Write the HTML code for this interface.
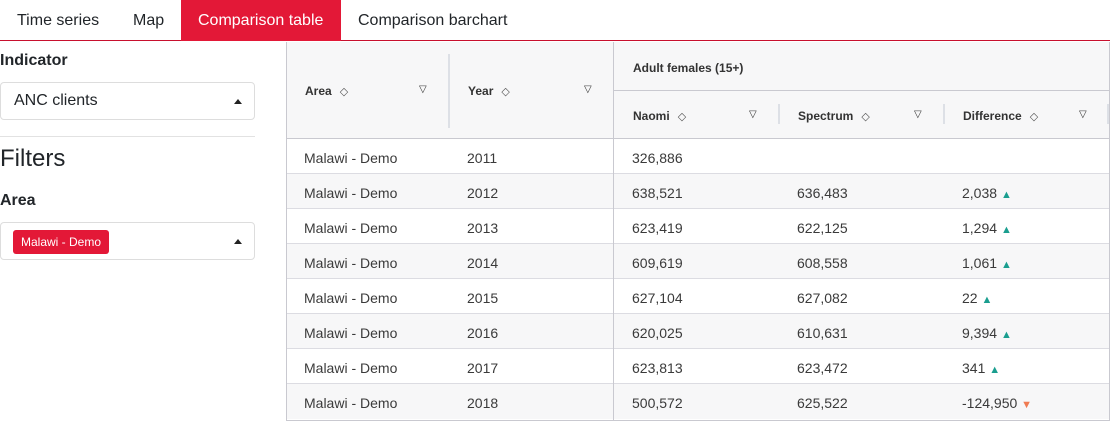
<!DOCTYPE html>
<html><head><meta charset="utf-8"><style>
*{box-sizing:border-box;margin:0;padding:0}
body{width:1110px;height:421px;background:#fff;font-family:"Liberation Sans",sans-serif;color:#212529;position:relative;overflow:hidden}
.a{position:absolute}
.tab{position:absolute;top:0;height:41px;line-height:41px;font-size:16px;padding:0 17px}
.th{font-size:12px;font-weight:bold;color:#333}
.fi{font-size:10px;font-weight:normal;color:#333}
.cell{position:absolute;font-size:14px;color:#3a3a3a;line-height:35px}
.sort{font-weight:normal;font-size:11px;margin-left:8px;color:#555}
.sel{position:absolute;left:0;width:255px;height:38px;border:1px solid #ddd;border-radius:4px}
.caret{position:absolute;right:12px;top:16px;width:0;height:0;border-left:4px solid transparent;border-right:4px solid transparent;border-bottom:5px solid #222}
</style></head><body>
<div class="a" style="left:0;top:40px;width:1110px;height:1px;background:#c8102e"></div>
<div class="tab" style="left:0">Time series</div>
<div class="tab" style="left:116px">Map</div>
<div class="tab" style="left:181px;width:160px;background:#e31837;color:#fff">Comparison table</div>
<div class="tab" style="left:341px">Comparison barchart</div>

<div class="a" style="left:0;top:52px;font-size:16px;font-weight:bold">Indicator</div>
<div class="sel" style="top:82px"><span class="a" style="left:13px;top:9px;font-size:16px">ANC clients</span><span class="caret"></span></div>
<div class="a" style="left:0;top:136px;width:255px;height:1px;background:#e2e2e2"></div>
<div class="a" style="left:0;top:145px;font-size:24px">Filters</div>
<div class="a" style="left:0;top:192px;font-size:16px;font-weight:bold">Area</div>
<div class="sel" style="top:222px"><span class="a" style="left:12px;top:7px;height:24px;line-height:24px;padding:0 8px;background:#e31837;color:#fff;border-radius:3px;font-size:12px">Malawi - Demo</span><span class="caret"></span></div>

<div class="a" id="tbl" style="left:286px;top:42px;width:824px;height:379px;border:1px solid #c9c9d0;border-top:none;overflow:hidden">
 <div class="a" style="left:0;top:0;width:824px;height:97px;background:#f7f7f8;border-bottom:1px solid #c9c9d0"></div>
 <div class="a" style="left:326px;top:0;width:1px;height:97px;background:#c9c9d0"></div>
 <div class="a" style="left:326px;top:48px;width:497px;height:1px;background:#c9c9d0"></div>
 <div class="a" style="left:161px;top:12px;width:2px;height:74px;background:#dde0e6"></div>
 <div class="a" style="left:491px;top:62px;width:2px;height:20px;background:#dde0e6"></div>
 <div class="a" style="left:656px;top:62px;width:2px;height:20px;background:#dde0e6"></div>
 <div class="a" style="left:820px;top:62px;width:2px;height:20px;background:#dde0e6"></div>
 <div class="a th" style="left:18px;top:42px">Area<span class="sort">◇</span></div>
 <div class="a fi" style="left:132px;top:42px">▽</div>
 <div class="a th" style="left:181px;top:42px">Year<span class="sort">◇</span></div>
 <div class="a fi" style="left:297px;top:42px">▽</div>
 <div class="a th" style="left:346px;top:19px">Adult females (15+)</div>
 <div class="a th" style="left:346px;top:67px">Naomi<span class="sort">◇</span></div>
 <div class="a fi" style="left:462px;top:67px">▽</div>
 <div class="a th" style="left:511px;top:67px">Spectrum<span class="sort">◇</span></div>
 <div class="a fi" style="left:627px;top:67px">▽</div>
 <div class="a th" style="left:676px;top:67px">Difference<span class="sort">◇</span></div>
 <div class="a fi" style="left:792px;top:67px">▽</div>
 <div class="a" style="left:326px;top:97px;width:1px;height:282px;background:#c9c9d0"></div>
</div>
<script>
const years=[2011,2012,2013,2014,2015,2016,2017,2018];
const naomi=[326886,638521,623419,609619,627104,620025,623813,500572];
const spectrum=[null,636483,622125,608558,627082,610631,623472,625522];
const tbl=document.getElementById('tbl');
const f=n=>n.toLocaleString('en-US');
years.forEach((y,i)=>{
 const top=97+i*35;
 const row=document.createElement('div');
 row.className='a';
 
 
 row.style.cssText=`left:0;top:${top}px;width:824px;height:35px;border-bottom:${i<years.length-1?'1px solid #dcdce2':'none'};background:${i%2?'#f7f7f8':'#fff'}`;
 tbl.insertBefore(row,tbl.children[1]);
 const cells=[['Malawi - Demo',17],[String(y),180],[f(naomi[i]),345]];
 if(spectrum[i]!=null){
  const d=naomi[i]-spectrum[i];
  cells.push([f(spectrum[i]),510]);
  cells.push([f(d)+(d>=0?' <span style="color:#1a9e8f;font-size:11px">▲</span>':' <span style="color:#f07b52;font-size:11px">▼</span>'),675]);
 }
 cells.forEach((c,j)=>{
  const el=document.createElement('div');
  el.className='cell';
  
  
  el.style.left=c[1]+'px';el.style.top=(top+2)+'px';
  el.innerHTML=c[0];
  tbl.appendChild(el);
 });
});
</script>
</body></html>
